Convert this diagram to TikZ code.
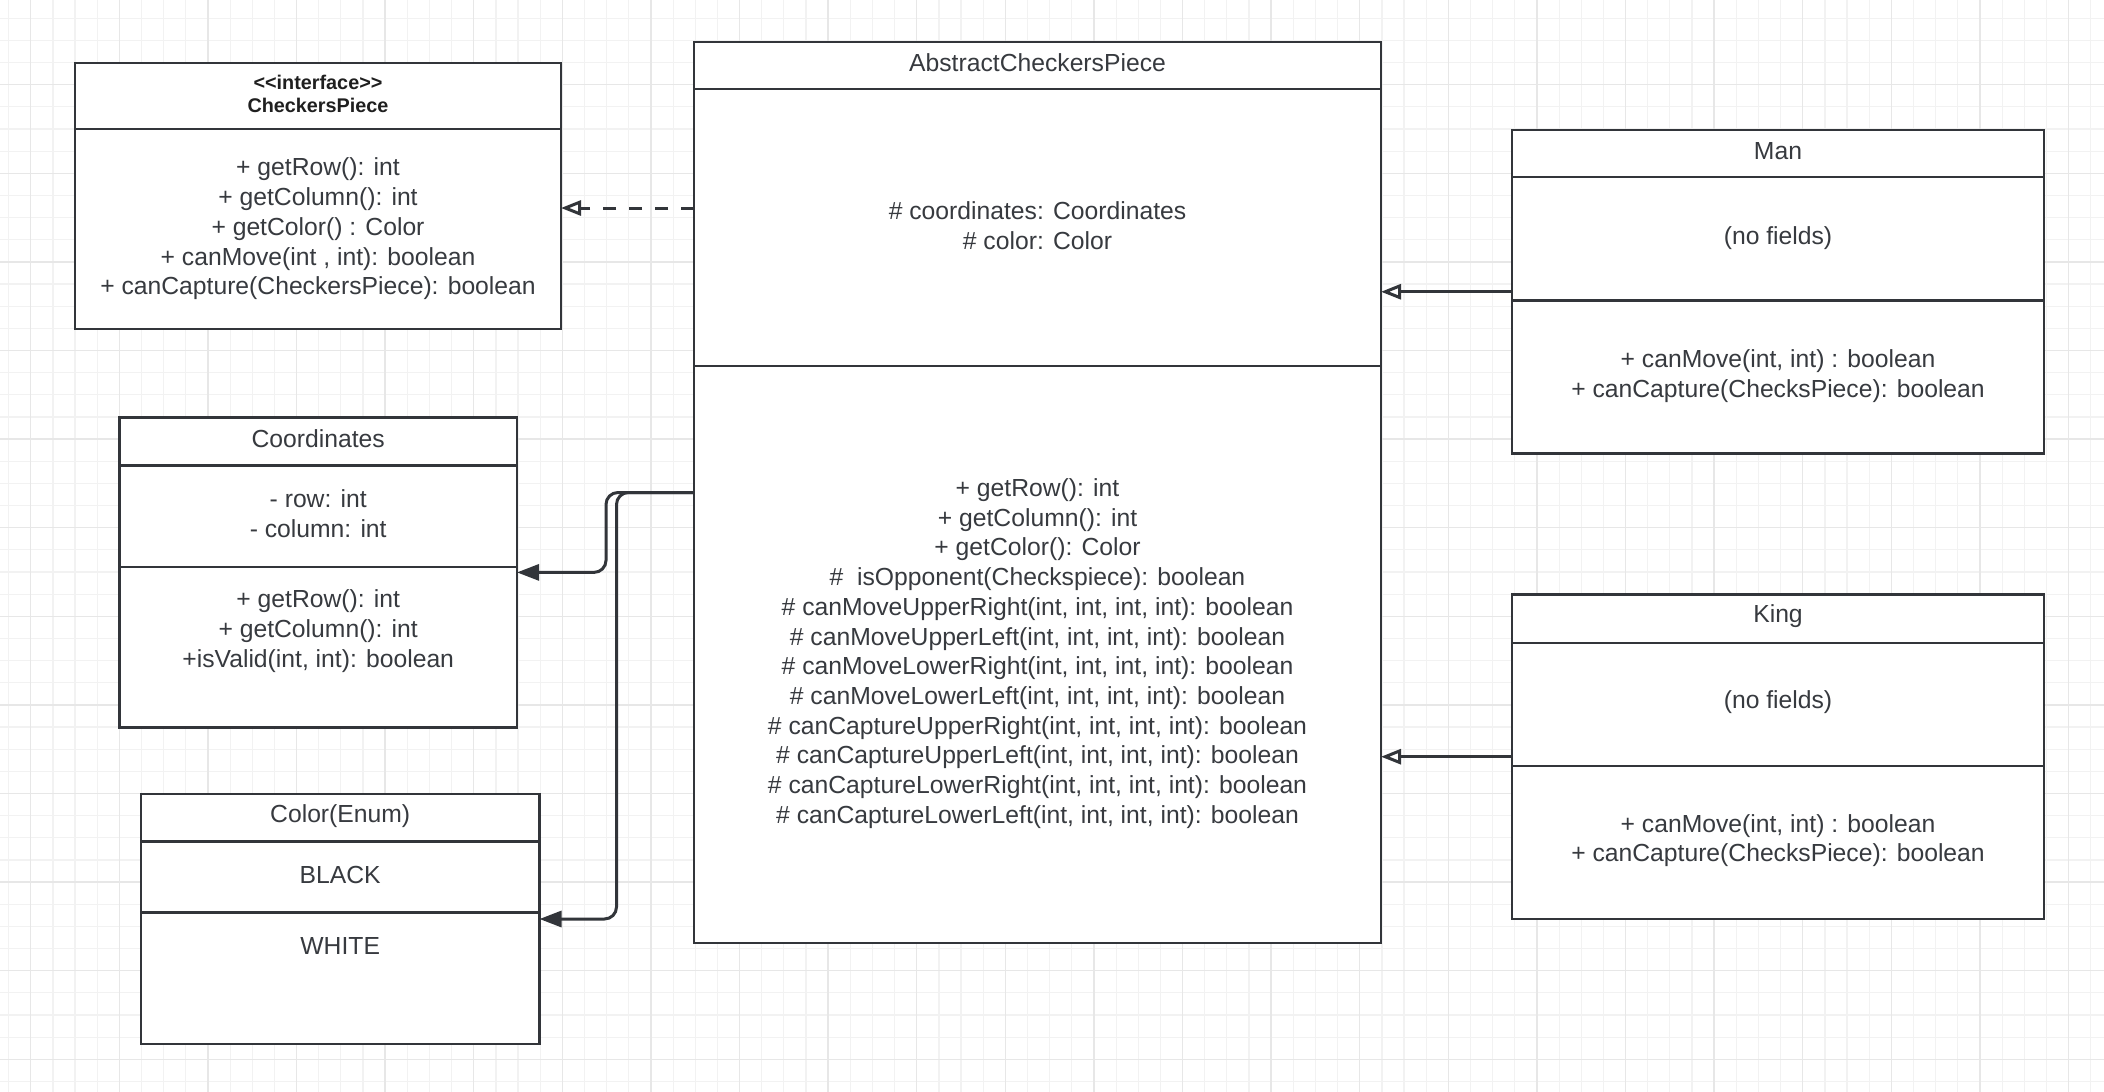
\documentclass[tikz,border=0pt]{standalone}
\usepackage{fontspec}
\setmainfont{Liberation Sans}
\usetikzlibrary{arrows.meta}

\definecolor{ink}{RGB}{50,53,58}
\definecolor{textgray}{RGB}{55,58,63}
\definecolor{gridminor}{RGB}{242,242,242}
\definecolor{gridmajor}{RGB}{231,231,231}

\begin{document}
\begin{tikzpicture}[x=1pt,y=-1pt,
  classbox/.style={draw=ink, fill=white, line width=2.4pt, rectangle,
    inner sep=0pt, outer sep=0pt, anchor=north west},
  divider/.style={draw=ink, line width=2.4pt},
  txt/.style={text=textgray, inner sep=0pt, align=center,
    font=\fontsize{24.7}{29.7}\selectfont},
  stereo/.style={text=black!88, inner sep=0pt, align=center,
    font=\fontsize{19.8}{23.4}\selectfont\bfseries},
  realize/.style={draw=ink, line width=3pt, dash pattern=on 13pt off 13pt,
    -{Triangle[open,length=20pt,width=15pt,fill=white]}},
  inherit/.style={draw=ink, line width=3pt,
    -{Triangle[open,length=20pt,width=15pt,fill=white]}},
  assoc/.style={draw=ink, line width=3pt, rounded corners=12pt,
    -{Triangle[length=22pt,width=16pt]}},
  minorline/.style={draw=gridminor, line width=1.2pt},
  majorline/.style={draw=gridmajor, line width=1.3pt},
]

% canvas and background grid
\useasboundingbox (0,0) rectangle (2104,1092);
\fill[white] (0,0) rectangle (2104,1092);
\foreach \i in {0,...,94}
  \draw[minorline] ({8.6+22.15*\i},0) -- ({8.6+22.15*\i},1092);
\foreach \j in {0,...,48}
  \draw[minorline] (0,{18.25+22.15*\j}) -- (2104,{18.25+22.15*\j});
\foreach \i in {0,...,23}
  \draw[majorline] ({30.7+88.6*\i},0) -- ({30.7+88.6*\i},1092);
\foreach \j in {0,...,11}
  \draw[majorline] (0,{84.7+88.6*\j}) -- (2104,{84.7+88.6*\j});

% <<interface>> CheckersPiece
\node[classbox, minimum width=486pt, minimum height=266pt] (iface) at (75,63) {};
\draw[divider] ([yshift=-66pt]iface.north west) -- ([yshift=-66pt]iface.north east);
\node[stereo] (iface-head) at (318,94) {{<}{<}interface{>}{>}\\CheckersPiece};
\node[txt] (iface-ops) at (318,229) {+ getRow(): int\\+ getColumn(): int\\+ getColor() : Color\\+ canMove(int , int): boolean\\+ canCapture(CheckersPiece): boolean};

% AbstractCheckersPiece
\node[classbox, minimum width=687pt, minimum height=901pt] (abs) at (694,42) {};
\draw[divider] ([yshift=-47pt]abs.north west) -- ([yshift=-47pt]abs.north east);
\draw[divider] ([yshift=-324pt]abs.north west) -- ([yshift=-324pt]abs.north east);
\node[txt] (abs-head) at (1037.5,63) {AbstractCheckersPiece};
\node[txt] (abs-fields) at (1037.5,226) {\# coordinates: Coordinates\\\# color: Color};
\node[txt] (abs-ops) at (1037.5,653.5) {+ getRow(): int\\+ getColumn(): int\\+ getColor(): Color\\\#\ \ isOpponent(Checkspiece): boolean\\\# canMoveUpperRight(int, int, int, int): boolean\\\# canMoveUpperLeft(int, int, int, int): boolean\\\# canMoveLowerRight(int, int, int, int): boolean\\\# canMoveLowerLeft(int, int, int, int): boolean\\\# canCaptureUpperRight(int, int, int, int): boolean\\\# canCaptureUpperLeft(int, int, int, int): boolean\\\# canCaptureLowerRight(int, int, int, int): boolean\\\# canCaptureLowerLeft(int, int, int, int): boolean};

% Man
\node[classbox, minimum width=532pt, minimum height=323.5pt] (man) at (1512,130) {};
\draw[divider] ([yshift=-47pt]man.north west) -- ([yshift=-47pt]man.north east);
\draw[divider] ([yshift=-170.5pt]man.north west) -- ([yshift=-170.5pt]man.north east);
\node[txt] (man-head) at (1778,151) {Man};
\node[txt] (man-fields) at (1778,238.5) {(no fields)};
\node[txt] (man-ops) at (1778,376) {+ canMove(int, int) : boolean\\+ canCapture(ChecksPiece): boolean};

% King
\node[classbox, minimum width=532pt, minimum height=324.6pt] (king) at (1512,594.4) {};
\draw[divider] ([yshift=-48.3pt]king.north west) -- ([yshift=-48.3pt]king.north east);
\draw[divider] ([yshift=-171.6pt]king.north west) -- ([yshift=-171.6pt]king.north east);
\node[txt] (king-head) at (1778,616) {King};
\node[txt] (king-fields) at (1778,702) {(no fields)};
\node[txt] (king-ops) at (1778,840.5) {+ canMove(int, int) : boolean\\+ canCapture(ChecksPiece): boolean};

% Coordinates
\node[classbox, minimum width=397.6pt, minimum height=310.2pt] (coords) at (119.4,417.3) {};
\draw[divider] ([yshift=-48.3pt]coords.north west) -- ([yshift=-48.3pt]coords.north east);
\draw[divider] ([yshift=-149.4pt]coords.north west) -- ([yshift=-149.4pt]coords.north east);
\node[txt] (coords-head) at (318.2,439) {Coordinates};
\node[txt] (coords-fields) at (318.2,514) {- row: int\\- column: int};
\node[txt] (coords-ops) at (318.2,631) {+ getRow(): int\\+ getColumn(): int\\+isValid(int, int): boolean};

% Color(Enum)
\node[classbox, minimum width=398.5pt, minimum height=250pt] (color) at (141,794) {};
\draw[divider] ([yshift=-47.3pt]color.north west) -- ([yshift=-47.3pt]color.north east);
\draw[divider] ([yshift=-118.6pt]color.north west) -- ([yshift=-118.6pt]color.north east);
\node[txt] (color-head) at (340.2,816) {Color(Enum)};
\node[txt] (color-black) at (340.2,875) {BLACK};
\node[txt] (color-white) at (340.2,946) {WHITE};

% relations
\coordinate (realize-level) at (0,208);
\draw[realize] (abs.west |- realize-level) -- (iface.east |- realize-level);
\draw[inherit] (man.west) -- (man.west -| abs.east);
\draw[inherit] (king.west) -- (king.west -| abs.east);
\draw[assoc] (abs.west) -- ([xshift=-88pt]abs.west) |- (coords.east);
\draw[assoc] (abs.west) -- ([xshift=-77.5pt]abs.west) |- (color.east);

\end{tikzpicture}
\end{document}
